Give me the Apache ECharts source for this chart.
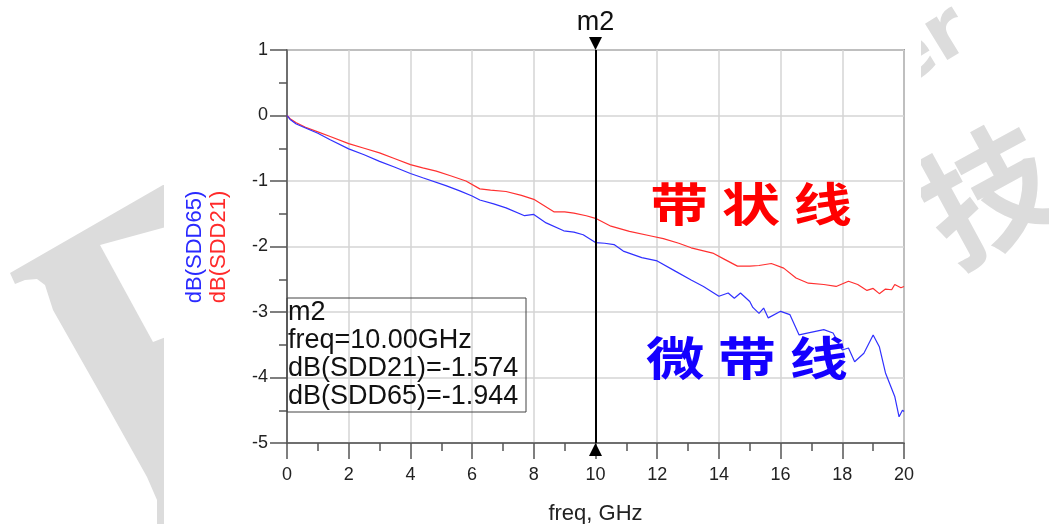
<!DOCTYPE html>
<html>
<head>
<meta charset="utf-8">
<script src="https://cdn.jsdelivr.net/npm/echarts@6/dist/echarts.min.js"></script>
<style>
  html, body { margin: 0; padding: 0; background: #fff; }
  #chart { width: 1049px; height: 524px; }
</style>
</head>
<body>
<div id="chart"></div>
<script>
// 带状线 SDD21
var freqSDD21 = [0, 0.1, 0.3, 0.6, 1.0, 1.4, 2.0, 2.5, 3.0, 3.5, 4.0, 4.4, 4.84, 5.3, 5.8, 6.25, 6.6, 7.1, 7.6, 8.0,
    8.65, 9.0, 9.3, 9.7, 10.0, 10.5, 11.1, 11.8, 12.2, 12.7, 13.1, 13.8, 14.2, 14.6, 15.0, 15.3, 15.7, 16.1,
    16.5, 16.9, 17.4, 17.8, 18.2, 18.5, 18.8, 19.0, 19.2, 19.4, 19.6, 19.7, 19.9, 20];
var dbSDD21 = [0, -0.05, -0.11, -0.18, -0.25, -0.32, -0.43, -0.50, -0.57, -0.66, -0.75, -0.80, -0.85, -0.92, -1.00, -1.12, -1.14, -1.16, -1.22, -1.28,
    -1.47, -1.47, -1.49, -1.53, -1.57, -1.69, -1.77, -1.84, -1.88, -1.95, -2.02, -2.10, -2.20, -2.30, -2.30, -2.29, -2.26, -2.33,
    -2.48, -2.56, -2.58, -2.61, -2.53, -2.58, -2.67, -2.64, -2.72, -2.65, -2.66, -2.58, -2.63, -2.61];

// 微带线 SDD65
var freqSDD65 = [0, 0.1, 0.3, 0.6, 1.0, 1.4, 2.0, 2.5, 3.0, 3.5, 4.0, 4.4, 5.15, 5.6, 6.0, 6.25, 6.7, 7.1, 7.7, 8.0,
    8.4, 8.97, 9.3, 9.6, 10.0, 10.3, 10.6, 10.9, 11.5, 12.0, 12.6, 13.1, 13.5, 14.0, 14.3, 14.5, 14.7, 15.0,
    15.1, 15.3, 15.45, 15.6, 16.0, 16.3, 16.6, 16.9, 17.4, 17.7, 18.0, 18.2, 18.4, 18.7, 19.0, 19.2, 19.4,
    19.7, 19.84, 19.95, 20];
var dbSDD65 = [0, -0.06, -0.13, -0.19, -0.27, -0.37, -0.51, -0.60, -0.70, -0.79, -0.885, -0.95, -1.07, -1.15, -1.23, -1.29, -1.35, -1.41, -1.53, -1.51,
    -1.64, -1.76, -1.78, -1.82, -1.94, -1.95, -1.97, -2.07, -2.17, -2.22, -2.38, -2.51, -2.61, -2.76, -2.71, -2.79, -2.71, -2.84,
    -2.93, -3.02, -2.94, -3.09, -2.99, -3.04, -3.35, -3.32, -3.27, -3.32, -3.58, -3.55, -3.76, -3.63, -3.35, -3.53, -3.93,
    -4.29, -4.60, -4.50, -4.52];

// marker m2
var markerName = 'm2';
var markerFreq = 10;
var markerReadout = ['m2', 'freq=10.00GHz', 'dB(SDD21)=-1.574', 'dB(SDD65)=-1.944'];

var xTickLabels = ['0', '2', '4', '6', '8', '10', '12', '14', '16', '18', '20'];

function pairs(xs, ys) {
    var out = [];
    for (var i = 0; i < xs.length; i++) {
        out.push([xs[i], ys[i]]);
    }
    return out;
}

var myChart = echarts.init(document.getElementById('chart'));
var font = 'Liberation Sans, Arial, sans-serif';
var wm = '#dcdcdc';

var option = {
    animation: false,
    backgroundColor: '#fff',
    grid: {
        show: true,
        left: 287,
        right: 145,
        top: 50,
        bottom: 81,
        containLabel: false,
        outerBoundsMode: 'none',
        borderColor: '#555',
        borderWidth: 1.5
    },
    xAxis: {
        type: 'value',
        min: 0,
        max: 20,
        interval: 2,
        name: 'freq, GHz',
        nameLocation: 'middle',
        nameGap: 60,
        nameTextStyle: { fontFamily: font, fontSize: 22, color: '#222' },
        axisLine: { onZero: false, lineStyle: { color: '#555', width: 1.5 } },
        axisTick: { length: 16, lineStyle: { color: '#555', width: 1.5 } },
        minorTick: { show: true, splitNumber: 2, length: 8, lineStyle: { color: '#555', width: 1.5 } },
        axisLabel: {
            fontFamily: font, fontSize: 18, color: '#222', margin: 23,
            formatter: function(v) { return xTickLabels[Math.round(v / 2)]; }
        },
        splitLine: { lineStyle: { color: '#d4d4d4', width: 1.5 } }
    },
    yAxis: {
        type: 'value',
        min: -5,
        max: 1,
        interval: 1,
        axisLine: { show: true, onZero: false, lineStyle: { color: '#555', width: 1.5 } },
        axisTick: { show: true, length: 17, lineStyle: { color: '#555', width: 1.5 } },
        minorTick: { show: true, splitNumber: 2, length: 8, lineStyle: { color: '#555', width: 1.5 } },
        axisLabel: { fontFamily: font, fontSize: 18, color: '#222', margin: 19 },
        splitLine: { lineStyle: { color: '#d4d4d4', width: 1.5 } }
    },
    series: [
        {
            name: 'dB(SDD21)',
            type: 'line',
            showSymbol: false,
            silent: true,
            data: pairs(freqSDD21, dbSDD21),
            lineStyle: { color: '#ff3030', width: 1.2 },
            z: 3
        },
        {
            name: 'dB(SDD65)',
            type: 'line',
            showSymbol: false,
            silent: true,
            data: pairs(freqSDD65, dbSDD65),
            lineStyle: { color: '#3030ff', width: 1.2 },
            z: 4,
            markLine: {
                silent: true,
                symbol: 'none',
                label: { show: false },
                lineStyle: { color: '#000', width: 2, type: 'solid' },
                data: [{ xAxis: markerFreq }]
            },
            markPoint: {
                silent: true,
                data: [
                    {
                        coord: [markerFreq, 1],
                        symbol: 'path://M0,0 L10,0 L5,10 Z',
                        symbolSize: [13, 13],
                        symbolOffset: [0, -6.5],
                        itemStyle: { color: '#000' },
                        label: {
                            show: true, position: 'top', distance: 1,
                            formatter: markerName,
                            fontFamily: font, fontSize: 27, color: '#111'
                        }
                    },
                    {
                        coord: [markerFreq, -5],
                        symbol: 'path://M5,0 L10,10 L0,10 Z',
                        symbolSize: [13, 13],
                        symbolOffset: [0, 6.5],
                        itemStyle: { color: '#000' },
                        label: { show: false }
                    }
                ]
            }
        }
    ],
    graphic: [
        // watermark behind the picture
        {
            type: 'polygon', z: -10, silent: true,
            shape: { points: [[10, 273], [163, 185], [166, 185], [166, 524], [157, 524], [157, 500], [147, 477],
                [100, 393], [53, 310], [45, 285], [37, 279], [25, 280], [15, 284]] },
            style: { fill: wm }
        },
        {
            type: 'polygon', z: -9, silent: true,
            shape: { points: [[100, 245], [166, 227], [166, 337], [153, 342]] },
            style: { fill: '#fff' }
        },
        {
            type: 'text', z: -10, silent: true, x: 988, y: 193, rotation: 0.5,
            style: { text: '技', fill: wm, font: 'bold 132px "Noto Sans CJK SC"', align: 'center', verticalAlign: 'middle' }
        },
        {
            type: 'text', z: -10, silent: true, x: 925, y: 50, rotation: 0.55,
            style: { text: 'er', fill: wm, font: 'bold 78px "DejaVu Sans"', align: 'center', verticalAlign: 'middle' }
        },
        {
            type: 'rect', z: -8, silent: true,
            shape: { x: 164, y: 4, width: 757, height: 520 },
            style: { fill: '#fff' }
        },
        // y axis names
        {
            type: 'text', x: 195, y: 247, rotation: Math.PI / 2, silent: true,
            style: { text: 'dB(SDD65)', fill: '#2a2aff', font: '22px ' + font, align: 'center', verticalAlign: 'middle' }
        },
        {
            type: 'text', x: 219, y: 247, rotation: Math.PI / 2, silent: true,
            style: { text: 'dB(SDD21)', fill: '#ff2a2a', font: '22px ' + font, align: 'center', verticalAlign: 'middle' }
        },
        // marker readout box
        {
            type: 'rect', silent: true, z: 10,
            shape: { x: 287, y: 298, width: 239, height: 114 },
            style: { fill: 'none', stroke: '#444', lineWidth: 1 }
        },
        {
            type: 'text', silent: true, z: 10, x: 288, y: 299,
            style: { text: markerReadout.join('\n'), fill: '#111', font: '27px ' + font, lineHeight: 28 }
        },
        // annotations
        {
            type: 'text', silent: true, z: 10, x: 751, y: 204, scaleX: 1.27,
            style: { text: '带 状 线', fill: '#ff0000', font: 'bold 46px "Noto Sans CJK SC"', align: 'center', verticalAlign: 'middle' }
        },
        {
            type: 'text', silent: true, z: 10, x: 747, y: 358, scaleX: 1.27,
            style: { text: '微 带 线', fill: '#1400ff', font: 'bold 46px "Noto Sans CJK SC"', align: 'center', verticalAlign: 'middle' }
        }
    ]
};

myChart.setOption(option);
</script>
</body>
</html>
